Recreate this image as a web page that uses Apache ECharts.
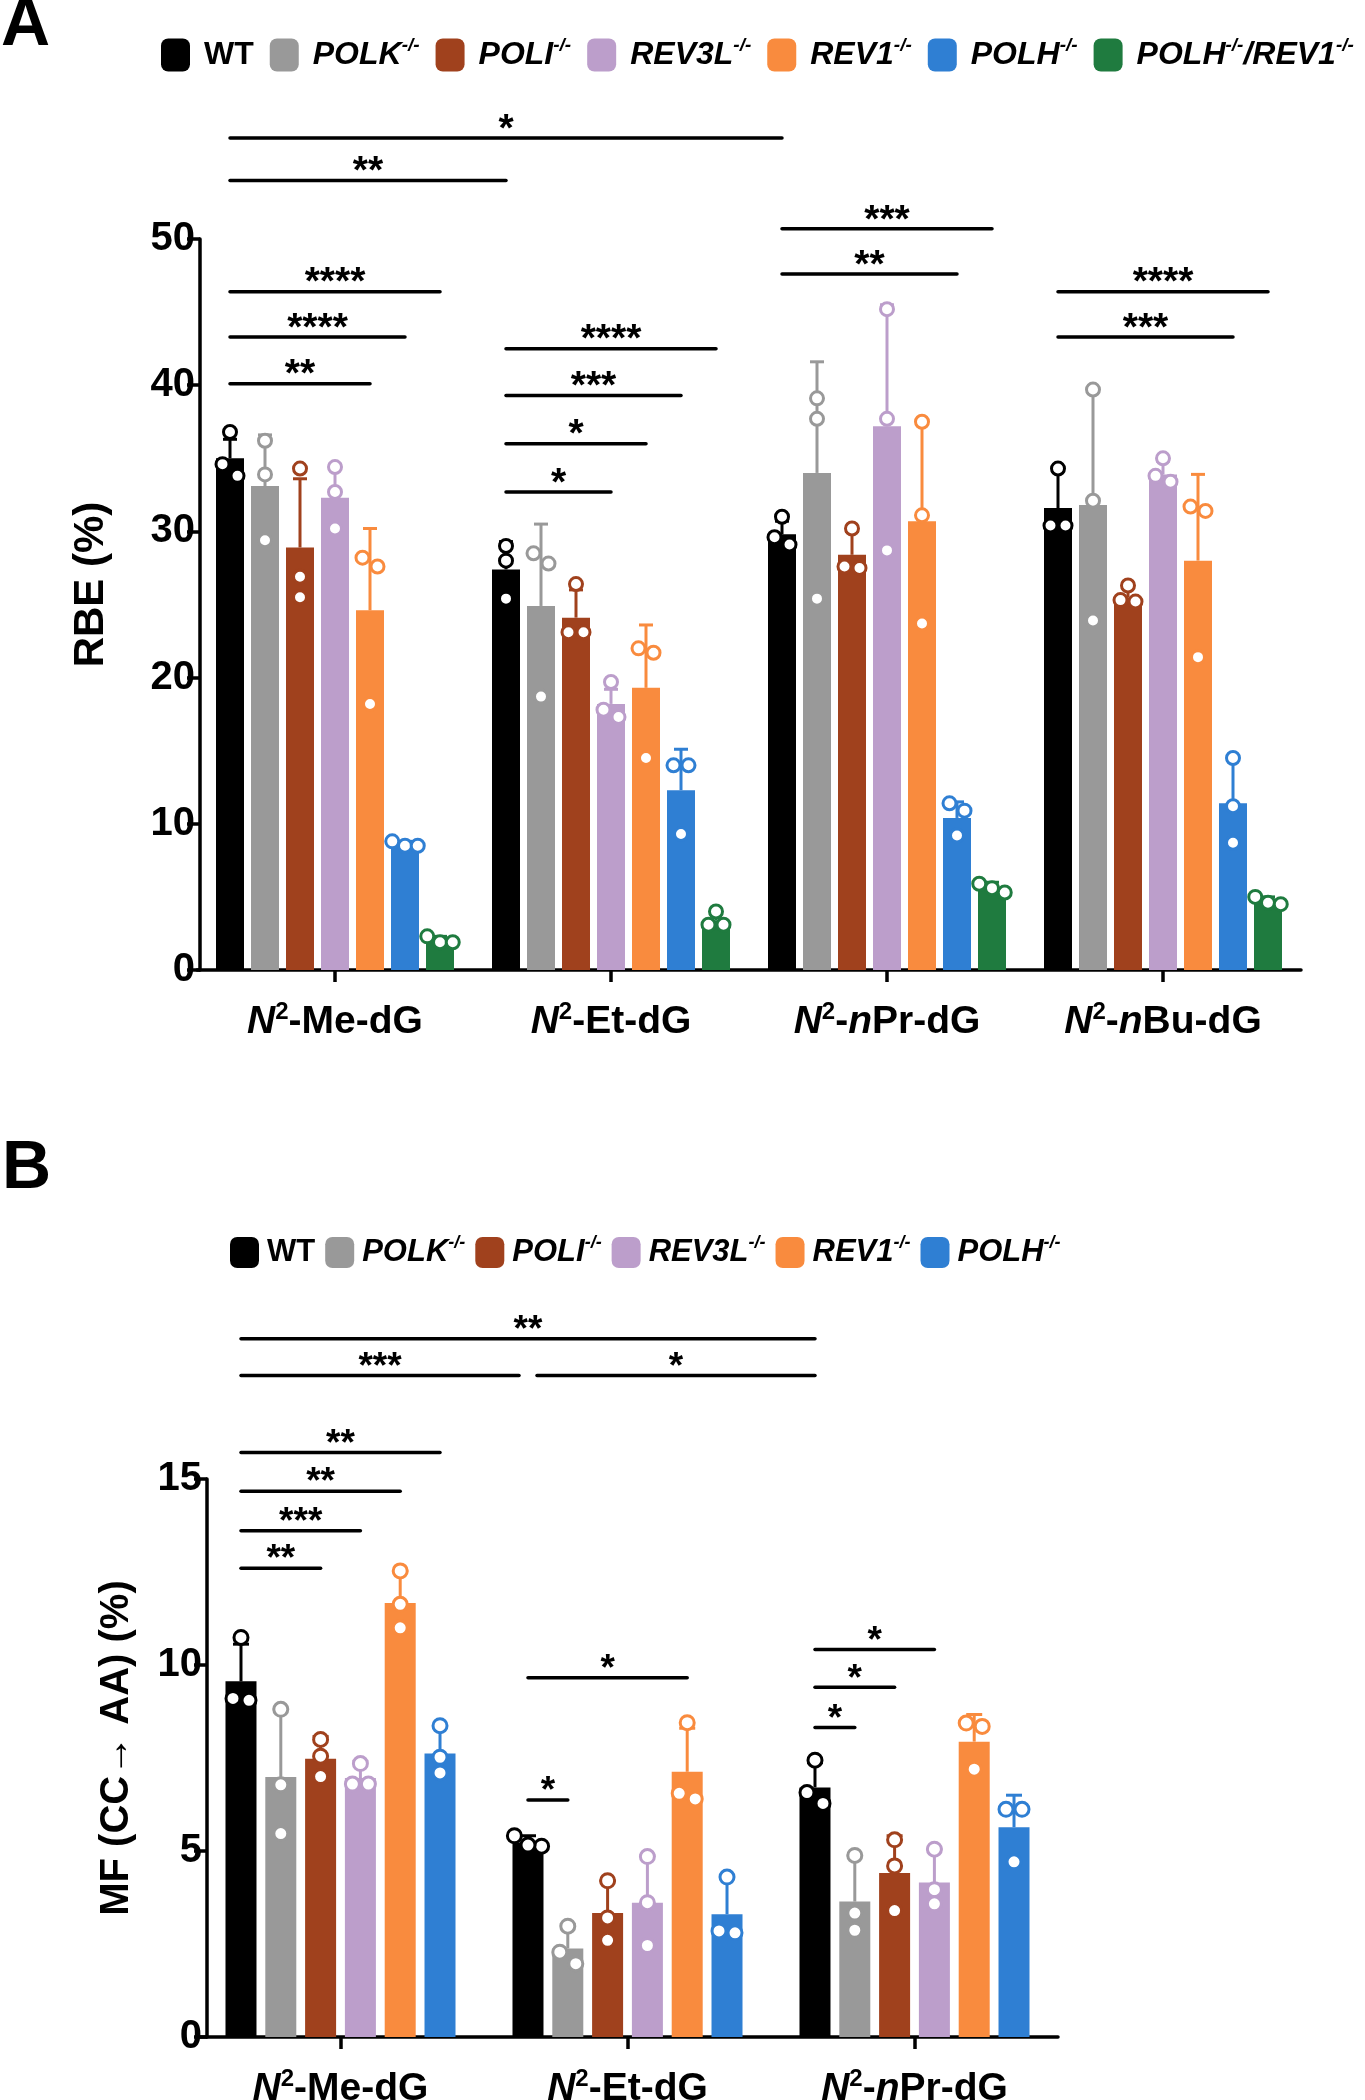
<!DOCTYPE html>
<html><head><meta charset="utf-8">
<script src="https://cdn.jsdelivr.net/npm/echarts@6/dist/echarts.min.js"></script>
<style>html,body{margin:0;padding:0;background:#fff}#c{width:1365px;height:2100px}</style>
</head><body><div id="c"></div>
<script>
const FONT = '"Liberation Sans", Arial, Helvetica, sans-serif';

// ---------------- Panel A data ----------------
const catsA = ['N2-Me-dG', 'N2-Et-dG', 'N2-nPr-dG', 'N2-nBu-dG'];
const genotypesA = ['WT', 'POLK-/-', 'POLI-/-', 'REV3L-/-', 'REV1-/-', 'POLH-/-', 'POLH-/-/REV1-/-'];
const colorsA = ['#000000', '#999999', '#A0411D', '#BC9ECB', '#F98B3E', '#2F7FD3', '#1F7B3F'];
const yTicksA = [0, 10, 20, 30, 40, 50];

const A_WT_mean = [35.0, 27.4, 29.8, 31.6];
const A_WT_sd   = [1.3, 1.9, 0.9, 2.6];
const A_WT_pts  = [[36.8, 33.8, 34.6], [29.0, 28.0, 25.4], [31.0, 29.1, 29.6], [34.3, 30.4, 30.4]];
const A_POLK_mean = [33.1, 24.9, 34.0, 31.8];
const A_POLK_sd   = [3.5, 5.6, 7.6, 7.9];
const A_POLK_pts  = [[36.2, 33.9, 29.4], [28.5, 27.8, 18.7], [39.1, 37.7, 25.4], [39.7, 32.1, 23.9]];
const A_POLI_mean = [28.9, 24.1, 28.4, 25.5];
const A_POLI_sd   = [4.7, 1.9, 1.6, 0.7];
const A_POLI_pts  = [[34.3, 26.9, 25.5], [26.4, 23.1, 23.1], [30.2, 27.5, 27.6], [26.3, 25.3, 25.2]];
const A_REV3L_mean = [32.3, 18.2, 37.2, 33.9];
const A_REV3L_sd   = [2.3, 1.0, 8.3, 0.9];
const A_REV3L_pts  = [[34.4, 32.7, 30.2], [19.7, 17.8, 17.3], [45.2, 37.7, 28.7], [35.0, 33.4, 33.8]];
const A_REV1_mean = [24.6, 19.3, 30.7, 28.0];
const A_REV1_sd   = [5.6, 4.3, 6.8, 5.9];
const A_REV1_pts  = [[28.2, 27.6, 18.2], [22.0, 21.7, 14.5], [37.5, 31.1, 23.7], [31.7, 31.4, 21.4]];
const A_POLH_mean = [8.6, 12.3, 10.4, 11.4];
const A_POLH_sd   = [0.2, 2.8, 1.1, 3.1];
const A_POLH_pts  = [[8.5, 8.8, 8.5], [14.0, 14.0, 9.3], [11.4, 10.9, 9.2], [14.5, 11.2, 8.7]];
const A_DKO_mean = [2.0, 3.4, 5.6, 4.7];
const A_DKO_sd   = [0.3, 0.5, 0.4, 0.3];
const A_DKO_pts  = [[1.9, 2.3, 1.9], [4.0, 3.1, 3.1], [5.9, 5.3, 5.6], [5.0, 4.6, 4.5]];

// brackets: [fromGroup, fromSeries, toGroup, toSeries, height, label]
const bracketsA = [
  [0, 0, 2, 0, 56.9, '*'],
  [0, 0, 1, 0, 54.0, '**'],
  [0, 0, 0, 6, 46.4, '****'],
  [0, 0, 0, 5, 43.3, '****'],
  [0, 0, 0, 4, 40.1, '**'],
  [1, 0, 1, 6, 42.5, '****'],
  [1, 0, 1, 5, 39.3, '***'],
  [1, 0, 1, 4, 36.0, '*'],
  [1, 0, 1, 3, 32.7, '*'],
  [2, 0, 2, 6, 50.7, '***'],
  [2, 0, 2, 5, 47.6, '**'],
  [3, 0, 3, 6, 46.4, '****'],
  [3, 0, 3, 5, 43.3, '***']
];

// ---------------- Panel B data ----------------
const catsB = ['N2-Me-dG', 'N2-Et-dG', 'N2-nPr-dG'];
const genotypesB = ['WT', 'POLK-/-', 'POLI-/-', 'REV3L-/-', 'REV1-/-', 'POLH-/-'];
const colorsB = ['#000000', '#999999', '#A0411D', '#BC9ECB', '#F98B3E', '#2F7FD3'];
const yTicksB = [0, 5, 10, 15];

const B_WT_mean = [9.56, 5.23, 6.71];
const B_WT_sd   = [1.0, 0.18, 0.67];
const B_WT_pts  = [[10.74, 9.05, 9.1], [5.41, 5.13, 5.16], [7.44, 6.28, 6.57]];
const B_POLK_mean = [6.99, 2.38, 3.64];
const B_POLK_sd   = [1.82, 0.64, 1.24];
const B_POLK_pts  = [[8.81, 6.78, 5.47], [2.98, 2.28, 1.97], [4.88, 3.33, 2.87]];
const B_POLI_mean = [7.48, 3.33, 4.41];
const B_POLI_sd   = [0.6, 0.87, 1.0];
const B_POLI_pts  = [[8.0, 7.55, 7.0], [4.2, 3.2, 2.6], [5.3, 4.6, 3.4]];
const B_REV3L_mean = [6.96, 3.61, 4.15];
const B_REV3L_sd   = [0.45, 1.27, 0.9];
const B_REV3L_pts  = [[7.35, 6.8, 6.8], [4.85, 3.61, 2.46], [5.05, 3.96, 3.58]];
const B_REV1_mean = [11.67, 7.13, 7.94];
const B_REV1_sd   = [0.86, 1.17, 0.73];
const B_REV1_pts  = [[12.53, 11.63, 11.0], [8.45, 6.55, 6.4], [8.44, 8.35, 7.2]];
const B_POLH_mean = [7.62, 3.3, 5.64];
const B_POLH_sd   = [0.75, 1.0, 0.86];
const B_POLH_pts  = [[8.37, 7.52, 7.1], [4.3, 2.8, 2.85], [6.12, 6.12, 4.71]];

const bracketsB = [
  [0, 0, 2, 0, 18.77, '**'],
  [0, 0, 1, 0, 17.78, '***'],
  [1, 0, 2, 0, 17.78, '*'],
  [0, 0, 0, 5, 15.71, '**'],
  [0, 0, 0, 4, 14.67, '**'],
  [0, 0, 0, 3, 13.61, '***'],
  [0, 0, 0, 2, 12.60, '**'],
  [1, 0, 1, 4, 9.66, '*'],
  [1, 0, 1, 1, 6.37, '*'],
  [2, 0, 2, 3, 10.42, '*'],
  [2, 0, 2, 2, 9.40, '*'],
  [2, 0, 2, 1, 8.32, '*']
];

// ---------------- assembly ----------------
const meansA = [A_WT_mean, A_POLK_mean, A_POLI_mean, A_REV3L_mean, A_REV1_mean, A_POLH_mean, A_DKO_mean];
const sdsA   = [A_WT_sd, A_POLK_sd, A_POLI_sd, A_REV3L_sd, A_REV1_sd, A_POLH_sd, A_DKO_sd];
const ptsA   = [A_WT_pts, A_POLK_pts, A_POLI_pts, A_REV3L_pts, A_REV1_pts, A_POLH_pts, A_DKO_pts];
const meansB = [B_WT_mean, B_POLK_mean, B_POLI_mean, B_REV3L_mean, B_REV1_mean, B_POLH_mean];
const sdsB   = [B_WT_sd, B_POLK_sd, B_POLI_sd, B_REV3L_sd, B_REV1_sd, B_POLH_sd];
const ptsB   = [B_WT_pts, B_POLK_pts, B_POLI_pts, B_REV3L_pts, B_REV1_pts, B_POLH_pts];

const STYLE_A = { bw: 28, gap: 0.25, r: 6.5, cap: 7, lw: 3, thr: 13, step: 15, starFont: 39 };
const STYLE_B = { bw: 31, gap: 0.284, r: 7, cap: 8, lw: 3, thr: 13, step: 16, starFont: 37 };

function barOffset(k, n, st) { return (k - (n - 1) / 2) * st.bw * (1 + st.gap); }

function dodge(ys, st) {
  const idx = ys.map((y, i) => i).sort((a, b) => ys[a] - ys[b]);
  const off = ys.map(() => 0);
  const clusters = [];
  let cur = [idx[0]];
  for (let j = 1; j < idx.length; j++) {
    if (Math.abs(ys[idx[j]] - ys[idx[j - 1]]) < st.thr) cur.push(idx[j]);
    else { clusters.push(cur); cur = [idx[j]]; }
  }
  clusters.push(cur);
  clusters.forEach(c => {
    const n = c.length;
    const s = n >= 3 ? st.step * 0.85 : st.step;
    c.forEach((p, j) => { off[p] = (j - (n - 1) / 2) * s; });
  });
  return off;
}

function makeErrRender(k, n, color, st) {
  return function (params, api) {
    const gi = api.value(0), m = api.value(1), sd = api.value(2);
    const base = api.coord([gi, m]);
    const x = base[0] + barOffset(k, n, st);
    const yTop = api.coord([gi, m + sd])[1];
    const ys = [3, 4, 5].map(j => api.coord([gi, api.value(j)])[1]);
    const off = dodge(ys, st);
    const children = [
      { type: 'line', shape: { x1: x, y1: base[1], x2: x, y2: yTop }, style: { stroke: color, lineWidth: st.lw } },
      { type: 'line', shape: { x1: x - st.cap, y1: yTop, x2: x + st.cap, y2: yTop }, style: { stroke: color, lineWidth: st.lw } }
    ];
    ys.forEach((y, j) => {
      children.push({ type: 'circle', shape: { cx: x + off[j], cy: y, r: st.r }, style: { fill: '#ffffff', stroke: color, lineWidth: st.lw } });
    });
    return { type: 'group', children };
  };
}

function makeBracketRender(list, n, st) {
  return function (params, api) {
    const b = list[params.dataIndex];
    const p1 = api.coord([b[0], b[4]]);
    const p2 = api.coord([b[2], b[4]]);
    let x1 = p1[0] + barOffset(b[1], n, st);
    let x2 = p2[0] + barOffset(b[3], n, st);
    list.forEach((o, oi) => {
      if (oi === params.dataIndex || o[4] !== b[4]) return;
      if (o[0] === b[2] && o[1] === b[3]) x2 -= 9;
      if (o[2] === b[0] && o[3] === b[1]) x1 += 9;
    });
    const y = p1[1];
    return {
      type: 'group', children: [
        { type: 'line', shape: { x1, y1: y, x2, y2: y }, style: { stroke: '#000', lineWidth: 3.5, lineCap: 'round' } },
        { type: 'text', x: (x1 + x2) / 2, y: y - 8, style: { text: b[5], align: 'center', verticalAlign: 'middle', font: 'bold ' + st.starFont + 'px ' + FONT, fill: '#000' } }
      ]
    };
  };
}

function legendFmt(name) {
  if (name === 'WT') return '{w|WT}';
  let s = name.replace(/([A-Z0-9]+)(-\/-)/g, '{i|$1}{s|$2}');
  s = s.replace(/\}\/\{/g, '}{i|/}{');
  return s;
}
function legendRich(fs, ss) {
  return {
    w: { fontFamily: FONT, fontWeight: 'bold', fontSize: fs, lineHeight: fs + 6, verticalAlign: 'middle', color: '#000' },
    i: { fontFamily: FONT, fontWeight: 'bold', fontStyle: 'italic', fontSize: fs, lineHeight: fs + 6, verticalAlign: 'middle', color: '#000' },
    s: { fontFamily: FONT, fontWeight: 'bold', fontStyle: 'italic', fontSize: ss, lineHeight: ss + 8, verticalAlign: 'top', color: '#000' }
  };
}

function catFmt(v) {
  let rest = v.replace(/^N2-/, '');
  let out = '{n|N}{s|2}{t|-}';
  const m = rest.match(/^n([A-Z].*)$/);
  if (m) out += '{n|n}{t|' + m[1] + '}';
  else out += '{t|' + rest + '}';
  return out;
}
const catRich = {
  n: { fontFamily: FONT, fontWeight: 'bold', fontStyle: 'italic', fontSize: 39, lineHeight: 44, verticalAlign: 'middle', color: '#000' },
  t: { fontFamily: FONT, fontWeight: 'bold', fontSize: 39, lineHeight: 44, verticalAlign: 'middle', color: '#000' },
  s: { fontFamily: FONT, fontWeight: 'bold', fontSize: 24, lineHeight: 31, verticalAlign: 'top', color: '#000' }
};

function valueAxis(gridIndex, ticks, name, nameGap, offset, nameFont, namePad) {
  return {
    type: 'value', gridIndex, min: ticks[0], max: ticks[ticks.length - 1], interval: ticks[1] - ticks[0],
    offset,
    name, nameLocation: 'middle', nameRotate: 90, nameGap,
    nameTextStyle: { fontFamily: FONT, fontWeight: 'bold', fontSize: nameFont, color: '#000', padding: namePad },
    axisLine: { show: true, lineStyle: { color: '#000', width: 3.5 } },
    axisTick: { show: true, length: 13, lineStyle: { color: '#000', width: 3.5 } },
    axisLabel: { fontFamily: FONT, fontWeight: 'bold', fontSize: 40, color: '#000', margin: 5 },
    splitLine: { show: false }
  };
}
function catAxis(gridIndex, cats, margin) {
  return {
    type: 'category', gridIndex, data: cats,
    axisLine: { show: true, lineStyle: { color: '#000', width: 3.5 } },
    axisTick: { show: true, alignWithLabel: true, length: 12, lineStyle: { color: '#000', width: 3.5 } },
    axisLabel: { formatter: catFmt, rich: catRich, margin, interval: 0 },
    splitLine: { show: false }
  };
}

const series = [];
genotypesA.forEach((g, k) => {
  series.push({ type: 'bar', name: g, xAxisIndex: 0, yAxisIndex: 0, data: meansA[k], barWidth: STYLE_A.bw, barGap: '25%',
    itemStyle: { color: colorsA[k] }, z: 2, silent: true });
});
genotypesA.forEach((g, k) => {
  series.push({ type: 'custom', xAxisIndex: 0, yAxisIndex: 0, z: 4, silent: true, clip: false,
    encode: { x: 0, y: 1 },
    data: meansA[k].map((m, i) => [i, m, sdsA[k][i]].concat(ptsA[k][i])),
    renderItem: makeErrRender(k, genotypesA.length, colorsA[k], STYLE_A) });
});
series.push({ type: 'custom', xAxisIndex: 0, yAxisIndex: 0, z: 5, silent: true, clip: false, encode: { x: 0, y: 1 },
  data: bracketsA.map(b => [b[0], b[4]]), renderItem: makeBracketRender(bracketsA, genotypesA.length, STYLE_A) });

genotypesB.forEach((g, k) => {
  series.push({ type: 'bar', name: g, xAxisIndex: 1, yAxisIndex: 1, data: meansB[k], barWidth: STYLE_B.bw, barGap: '28.4%',
    itemStyle: { color: colorsB[k] }, z: 2, silent: true });
});
genotypesB.forEach((g, k) => {
  series.push({ type: 'custom', xAxisIndex: 1, yAxisIndex: 1, z: 4, silent: true, clip: false,
    encode: { x: 0, y: 1 },
    data: meansB[k].map((m, i) => [i, m, sdsB[k][i]].concat(ptsB[k][i])),
    renderItem: makeErrRender(k, genotypesB.length, colorsB[k], STYLE_B) });
});
series.push({ type: 'custom', xAxisIndex: 1, yAxisIndex: 1, z: 5, silent: true, clip: false, encode: { x: 0, y: 1 },
  data: bracketsB.map(b => [b[0], b[4]]), renderItem: makeBracketRender(bracketsB, genotypesB.length, STYLE_B) });

const chart = echarts.init(document.getElementById('c'), null, { renderer: 'canvas' });
chart.setOption({
  animation: false,
  backgroundColor: '#ffffff',
  title: [
    { text: 'A', left: -4, top: -13, textStyle: { fontFamily: FONT, fontWeight: 'bold', fontSize: 68, color: '#000' } },
    { text: 'B', left: -3, top: 1130, textStyle: { fontFamily: FONT, fontWeight: 'bold', fontSize: 68, color: '#000' } }
  ],
  legend: [
    { data: genotypesA, left: 156, top: 31, width: 1400, itemWidth: 29, itemHeight: 33, itemGap: 16, icon: 'roundRect',
      formatter: legendFmt, textStyle: { rich: legendRich(32, 19), padding: [0, 0, 0, 9] }, selectedMode: false },
    { data: genotypesB, left: 225, top: 1229, width: 1100, itemWidth: 29, itemHeight: 31, itemGap: 10, icon: 'roundRect',
      formatter: legendFmt, textStyle: { rich: legendRich(31, 18), padding: [0, 0, 0, 3] }, selectedMode: false }
  ],
  grid: [
    { left: 197, top: 239, width: 1104, height: 731, containLabel: false, outerBoundsMode: 'none' },
    { left: 197, top: 1479, width: 861, height: 558, containLabel: false, outerBoundsMode: 'none' }
  ],
  xAxis: [catAxis(0, catsA, 30), catAxis(1, catsB, 30)],
  yAxis: [
    valueAxis(0, yTicksA, 'RBE (%)', 88, -3, 42, [0, 0, 0, 40]),
    valueAxis(1, yTicksB, 'MF (CC\u2192 AA) (%)', 70, -10, 40, [0, 0, 0, 20])
  ],
  series
});
</script>
</body></html>
